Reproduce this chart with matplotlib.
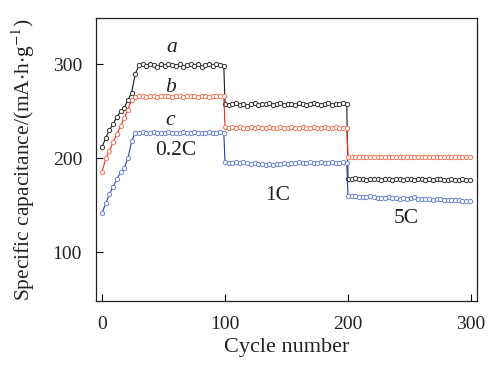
import numpy as np
import matplotlib.pyplot as plt

plt.rcParams['font.family'] = ['Liberation Serif', 'DejaVu Serif']
plt.rcParams['mathtext.fontset'] = 'stix'

# cycles per rate step, every 3rd cycle is plotted
cycles_02c = np.arange(0, 100, 3)
cycles_1c = np.arange(100, 200, 3)
cycles_5c = np.arange(200, 300, 3)

a_02c = [212, 222, 230, 237, 244, 250, 254, 262, 270, 290, 299, 300, 298, 301, 299, 297, 300,
         298, 301, 299, 298, 300, 297, 299, 301, 298, 300, 297, 299, 301, 298, 300, 299, 298]
a_1c = [258, 257, 258, 259, 257, 258, 256, 258, 259, 257, 258, 258, 259, 257, 258, 259, 257,
        258, 258, 257, 259, 258, 257, 258, 259, 258, 257, 258, 259, 257, 258, 258, 259, 258]
a_5c = [178, 178, 179, 178, 178, 177, 178, 178, 178, 177, 178, 178, 177, 178, 178, 177, 178,
        178, 177, 178, 178, 177, 178, 177, 178, 178, 177, 177, 178, 177, 177, 178, 177, 177]

b_02c = [186, 200, 208, 217, 226, 234, 243, 252, 262, 265, 266, 266, 265, 266, 266, 265, 266,
         266, 266, 265, 266, 266, 265, 266, 266, 266, 265, 266, 266, 265, 266, 266, 266, 266]
b_1c = [233, 232, 233, 232, 233, 232, 232, 233, 232, 233, 232, 232, 233, 232, 232, 233, 232,
        232, 233, 232, 232, 233, 232, 232, 233, 232, 232, 233, 232, 232, 233, 232, 232, 232]
b_5c = [202, 202, 202, 202, 202, 201, 202, 202, 202, 202, 201, 202, 202, 202, 202, 202, 201,
        202, 202, 202, 202, 201, 202, 202, 202, 202, 202, 201, 202, 202, 202, 202, 201, 202]

c_02c = [142, 152, 162, 170, 178, 185, 190, 200, 218, 227, 227, 228, 227, 227, 228, 227, 227,
         227, 228, 227, 227, 227, 228, 227, 227, 228, 227, 227, 227, 228, 227, 227, 228, 227]
c_1c = [196, 195, 195, 196, 195, 196, 195, 194, 195, 194, 194, 193, 194, 193, 194, 194, 195,
        194, 195, 195, 196, 195, 195, 196, 195, 195, 196, 195, 195, 196, 195, 195, 196, 195]
c_5c = [160, 160, 160, 159, 159, 159, 160, 159, 158, 158, 158, 159, 158, 158, 157, 158, 157,
        158, 159, 157, 157, 157, 157, 156, 157, 157, 156, 156, 156, 156, 156, 155, 155, 155]

cycles = np.concatenate([cycles_02c, cycles_1c, cycles_5c])
series = {
    'a': (a_02c + a_1c + a_5c, '#1a1a1a', '#333333'),
    'b': (b_02c + b_1c + b_5c, '#ee2a1a', '#f07858'),
    'c': (c_02c + c_1c + c_5c, '#2040b0', '#6a84d0'),
}

fig, ax = plt.subplots(figsize=(4.97, 3.65), dpi=100)
fig.subplots_adjust(left=0.193, right=0.96, top=0.952, bottom=0.175)

for name, (vals, line_c, mk_c) in series.items():
    ax.plot(cycles, vals, color=line_c, linewidth=0.8, marker='o', markersize=3.1,
            markerfacecolor='white', markeredgecolor=mk_c, markeredgewidth=0.7)

ax.set_xlim(-5, 305)
ax.set_ylim(48, 350)
ax.set_xticks([0, 100, 200, 300])
ax.set_yticks([100, 200, 300])
ax.tick_params(direction='in', length=5, labelsize=14, width=0.8, top=False, right=False,
               labelcolor='#222222')
ax.tick_params(axis='x', pad=11)
ax.tick_params(axis='y', pad=10)
for s in ax.spines.values():
    s.set_linewidth(0.9)
    s.set_color('#222222')

ax.set_xlabel('Cycle number', fontsize=16, color='#222222', labelpad=3)
ax.set_ylabel(r'Specific capacitance/(mA$\cdot$h$\cdot$g$^{-1}$)', fontsize=15.5,
              color='#222222', labelpad=11)

kw = dict(fontsize=15.5, ha='center', va='center', color='#222222')
ax.text(57, 318, 'a', style='italic', **kw)
ax.text(56, 276, 'b', style='italic', **kw)
ax.text(55, 240, 'c', style='italic', **kw)
ax.text(60, 208, '0.2C', **kw)
ax.text(143, 160, '1C', **kw)
ax.text(247, 136, '5C', **kw)

fig.savefig('out.png', dpi=100)
